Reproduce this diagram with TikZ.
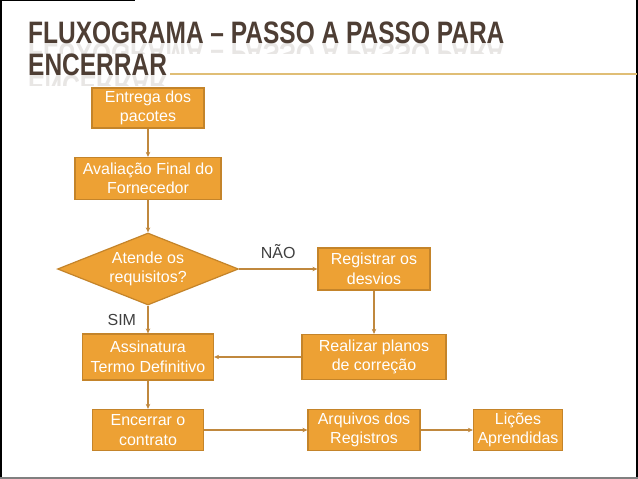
\documentclass[tikz,border=0pt]{standalone}
\usepackage{fontspec}
\setmainfont{Liberation Sans}
\usetikzlibrary{shapes.geometric,arrows.meta}

\definecolor{boxfill}{RGB}{237,161,52}
\definecolor{boxline}{RGB}{196,132,42}
\definecolor{arrowcol}{RGB}{192,136,62}
\definecolor{titlecol}{RGB}{78,62,52}
\definecolor{rulecol}{RGB}{224,190,118}
\definecolor{labelcol}{RGB}{64,64,64}

\newcommand{\titleone}{FLUXOGRAMA -- PASSO A PASSO PARA}
\newcommand{\titletwo}{ENCERRAR}

\tikzset{
  stepbox/.style={rectangle, draw=boxline, line width=1.2pt, fill=boxfill,
    text=white, align=center, inner sep=0pt,
    font=\fontsize{16}{19.5}\selectfont},
  decision/.style={diamond, draw=boxline, line width=1.2pt, fill=boxfill,
    text=white, align=center, inner sep=0pt, aspect=2.5,
    minimum width=181pt, minimum height=72pt,
    font=\fontsize{16}{19.5}\selectfont},
  flow/.style={draw=arrowcol, line width=1.2pt, -{Stealth[length=5pt,width=4.5pt]}},
  answer/.style={text=labelcol, font=\fontsize{16}{19.5}\selectfont},
  heading/.style={text=titlecol, inner sep=0pt, anchor=base west,
    font=\fontsize{31}{34}\selectfont\bfseries}
}

\begin{document}
\begin{tikzpicture}[x=1pt,y=-1pt]

\useasboundingbox (0,0) rectangle (638,479);
\fill[white] (0,0) rectangle (638,479);

% slide frame
\draw[black, line width=2pt] (1,0) -- (1,479);
\draw[black, line width=2pt] (637,0) -- (637,479);
\draw[black, line width=0.6pt] (0,0.5) -- (135,0.5);
\draw[gray, line width=2.5pt] (0,478) -- (638,478);

% title with its reflection
\node[heading] (TitleA) at (28,43) {\scalebox{0.79}[1]{\titleone}};
\node[heading] (TitleB) at (28,75) {\scalebox{0.79}[1]{\titletwo}};
\begin{scope}
  \clip (0,43) rectangle (638,53);
  \node[heading, opacity=0.13] at (28,43) {\scalebox{0.79}[-1]{\titleone}};
\end{scope}
\begin{scope}
  \clip (0,75) rectangle (638,85);
  \node[heading, opacity=0.13] at (28,75) {\scalebox{0.79}[-1]{\titletwo}};
\end{scope}
\draw[rulecol, line width=1.2pt] (TitleB.base east) ++(3,-1) -- (637,74);

\coordinate (cEntrega)    at (148,108);
\coordinate (cAvaliacao)  at (148,178.5);
\coordinate (cAtende)     at (148,269);
\coordinate (cRegistrar)  at (374,269);
\coordinate (cAssinatura) at (148,357);
\coordinate (cRealizar)   at (374,357);
\coordinate (cEncerrar)   at (148,430);
\coordinate (cArquivos)   at (364,430);
\coordinate (cLicoes)     at (518,430);

\node[stepbox, minimum width=112pt, minimum height=40pt] (Entrega) at (cEntrega) {Entrega dos\\pacotes};
\node[stepbox, minimum width=146pt, minimum height=42pt] (Avaliacao) at (cAvaliacao) {Avaliação Final do\\Fornecedor};
\node[decision] (Atende) at (cAtende) {Atende os\\requisitos?};
\node[stepbox, minimum width=112pt, minimum height=42pt] (Registrar) at (cRegistrar) {Registrar os\\desvios};
\node[stepbox, minimum width=131pt, minimum height=46pt] (Assinatura) at (cAssinatura) {Assinatura\\Termo Definitivo};
\node[stepbox, minimum width=144pt, minimum height=45pt] (Realizar) at (cRealizar) {Realizar planos\\de correção};
\node[stepbox, minimum width=111pt, minimum height=41pt] (Encerrar) at (cEncerrar) {Encerrar o\\contrato};
\node[stepbox, minimum width=112pt, minimum height=41pt] (Arquivos) at (cArquivos) {Arquivos dos\\Registros};
\node[stepbox, minimum width=89pt, minimum height=41pt] (Licoes) at (cLicoes) {Lições\\Aprendidas};

\draw[flow] (Entrega) -- (Avaliacao);
\draw[flow] (Avaliacao) -- (Atende);
\draw[flow] (Atende.east) -- node[answer, above=6pt] (Nao) {NÃO} (Registrar.west);
\draw[flow] (Atende.south) -- node[answer, left=8pt] (Sim) {SIM} (Assinatura.north);
\draw[flow] (Registrar) -- (Realizar);
\draw[flow] (Realizar) -- (Assinatura);
\draw[flow] (Assinatura) -- (Encerrar);
\draw[flow] (Encerrar) -- (Arquivos);
\draw[flow] (Arquivos) -- (Licoes);

\end{tikzpicture}
\end{document}
